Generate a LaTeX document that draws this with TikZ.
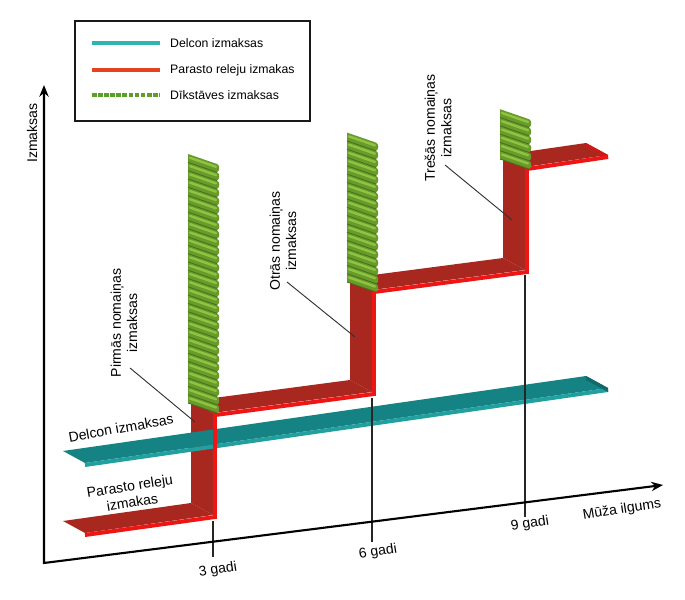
\documentclass[tikz,border=0pt]{standalone}
\usepackage{fontspec}
\setmainfont{Liberation Sans}
\usepackage{tikz}
\usetikzlibrary{arrows.meta,positioning}

\definecolor{delcon}{HTML}{158383}
\definecolor{delconedge}{HTML}{22A0A0}
\definecolor{delconkey}{HTML}{2FB3B3}
\definecolor{relay}{HTML}{A8281F}
\definecolor{relayedge}{HTML}{EE1515}
\definecolor{relayend}{HTML}{C81A16}
\definecolor{relaykey}{HTML}{E4431E}
\definecolor{idle}{HTML}{699A2A}
\definecolor{idlelight}{HTML}{8FC443}
\definecolor{idledark}{HTML}{43701A}
\definecolor{idlekey}{HTML}{5C9E2A}

\begin{document}
\begin{tikzpicture}[x=0.3mm,y=-0.3mm,
    relayface/.style={fill=relay},
    relayfront/.style={draw=relayedge,line width=3.4pt,line join=miter},
    delconface/.style={fill=delcon},
    delconfront/.style={draw=delconedge,line width=3.4pt},
    rod/.style={fill=idle},
    rodhi/.style={draw=idlelight,line width=2pt,line cap=round},
    rodseam/.style={draw=idledark,line width=0.7pt},
    tick/.style={draw=black!85,line width=0.9pt},
    leader/.style={draw=black!80,line width=0.8pt},
    axis/.style={draw=black,line width=1.8pt,{Stealth[length=10pt,width=8pt]}-{Stealth[length=10pt,width=8pt]}},
    lbl/.style={font=\fontsize{12}{14}\selectfont,align=center,inner sep=0pt},
    keytext/.style={font=\fontsize{10.5}{12}\selectfont,anchor=west,inner sep=0pt},
    keyline/.style={line width=3.4pt}]
    \useasboundingbox[fill=white] (0,0) rectangle (685,600);

    % relay cost ribbon (front edge points)
    \coordinate (r0) at (85,533);
    \coordinate (r1) at (213,515);
    \coordinate (r2) at (213,413);
    \coordinate (r3) at (372,392);
    \coordinate (r4) at (372,290);
    \coordinate (r5) at (525,270);
    \coordinate (r6) at (525,167);
    \coordinate (r7) at (608,155);
    \coordinate (t0) at (85,463);
    \coordinate (t1) at (608,388);

    \foreach \a/\b in {r0/r1,r1/r2,r2/r3,r3/r4,r4/r5,r5/r6,r6/r7}
        \fill[relayface] (\a) -- (\b) -- ([shift={(-22,-12)}]\b) -- ([shift={(-22,-12)}]\a) -- cycle;
    \fill[relayend] (r7) -- ([shift={(-22,-12)}]r7) -- ([shift={(-22,-8)}]r7) -- ([shift={(0,4)}]r7) -- cycle;

    % Delcon ribbon
    \fill[delconface] (t0) -- (t1) -- ([shift={(-22,-12)}]t1) -- ([shift={(-22,-12)}]t0) -- cycle;
    \draw[delconfront] ([shift={(0,2)}]t0) -- ([shift={(0,2)}]t1);
    \fill[delcon!80!black] (t1) -- ([shift={(-22,-12)}]t1) -- ([shift={(-22,-8)}]t1) -- ([shift={(0,4)}]t1) -- cycle;

    \draw[relayfront] ([shift={(0,2)}]r0) -- ([shift={(2,2)}]r1) -- ([shift={(2,2)}]r2)
        -- ([shift={(2,2)}]r3) -- ([shift={(2,2)}]r4) -- ([shift={(2,2)}]r5)
        -- ([shift={(2,2)}]r6) -- ([shift={(0,2)}]r7);

    % idle cost columns
    \foreach \px/\py/\n in {217/413/30,376/292/18,529/169/6}{
        \foreach \k in {1,...,\n}{
            \pgfmathsetmacro\yb{\py-(\k-1)*8.3}
            \pgfmathsetmacro\yt{\py-\k*8.3}
            \fill[rod] ({\px-29},{\yb-10}) -- (\px,\yb) .. controls +(3,-1) and +(3,1) .. (\px,\yt) -- ({\px-29},{\yt-10}) -- cycle;
            \draw[rodhi] ({\px-27},{\yb-14.5}) -- ({\px-1},{\yb-5.5});
            \draw[rodseam] ({\px-29},{\yb-10}) -- (\px,\yb);
        }
    }

    % ticks
    \coordinate (k3a) at (213,521);
    \coordinate (k3b) at (213,557);
    \coordinate (k6a) at (372,398);
    \coordinate (k6b) at (372,542);
    \coordinate (k9a) at (525,275);
    \coordinate (k9b) at (525,517);
    \draw[tick] (k3a) -- (k3b);
    \draw[tick] (k6a) -- (k6b);
    \draw[tick] (k9a) -- (k9b);
    \node[lbl,rotate=9] (g3) at (218,570) {3 gadi};
    \node[lbl,rotate=9] (g6) at (378,552) {6 gadi};
    \node[lbl,rotate=9] (g9) at (530,524) {9 gadi};

    % axes
    \coordinate (origin) at (44,563);
    \coordinate (ytop) at (44,85);
    \coordinate (xend) at (663,485);
    \draw[axis] (ytop) -- (origin) -- (xend);
    \node[lbl,rotate=90] (ylab) at (32,133) {Izmaksas};
    \node[lbl,rotate=9] (xlab) at (622,510) {Mūža ilgums};

    % labels
    \node[lbl,rotate=10] (dlab) at (121,428) {Delcon izmaksas};
    \node[lbl,rotate=9] (plab) at (131,494) {Parasto releju\\izmakas};
    \node[lbl,rotate=90] (n1) at (124,323) {Pirmās nomaiņas\\izmaksas};
    \node[lbl,rotate=90] (n2) at (283,241) {Otrās nomaiņas\\izmaksas};
    \node[lbl,rotate=90] (n3) at (438,128) {Trešās nomaiņas\\izmaksas};
    \coordinate (p1a) at (130,368);
    \coordinate (p1b) at (195,422);
    \coordinate (p2a) at (287,282);
    \coordinate (p2b) at (355,337);
    \coordinate (p3a) at (445,165);
    \coordinate (p3b) at (512,220);
    \draw[leader] (p1a) -- (p1b);
    \draw[leader] (p2a) -- (p2b);
    \draw[leader] (p3a) -- (p3b);

    % legend
    \draw[black!90,line width=1pt] (75,21) rectangle (310,121);
    \draw[keyline,delconkey] (92,43) -- (160,43);
    \draw[keyline,relaykey] (92,70) -- (160,70);
    \draw[keyline,idlekey,dash pattern=on 4pt off 1.2pt] (92,95) -- (160,95);
    \node[keytext] (key1) at (170,43) {Delcon izmaksas};
    \node[keytext] (key2) at (170,70) {Parasto releju izmakas};
    \node[keytext] (key3) at (170,95) {Dīkstāves izmaksas};
\end{tikzpicture}
\end{document}
